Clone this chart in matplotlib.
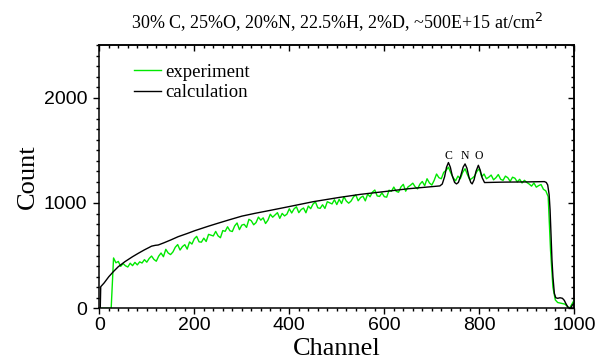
import numpy as np
import matplotlib
matplotlib.use("Agg")
import matplotlib.pyplot as plt
from matplotlib.ticker import MultipleLocator

# ---------------- data ----------------
title_text = "30% C, 25%O, 20%N, 22.5%H, 2%D, ~500E+15 at/cm$^2$"
x_label = "Channel"
y_label = "Count"
series_names = ["experiment", "calculation"]

# experiment: counts read every 5 channels (0..1000)
exp_channels = np.arange(0, 1001, 5)
exp_counts = [
    0, 0, 0, 0, 0, 0,
    478, 432, 445, 398, 425, 404, 392, 428, 405, 436, 412, 441, 430, 462, 438,
    473, 496, 464, 447, 495, 525, 490, 560, 525, 510, 535, 580, 605, 553, 586, 604, 562, 630, 610, 660,
    683, 631, 628, 666, 634, 702, 694, 687, 730, 688, 670, 738, 731, 774, 736, 729, 782, 810, 747, 790,
    797, 768, 845, 831, 793, 814, 866, 837, 859, 805, 837, 893, 865, 886, 908, 854, 901, 877, 894, 945,
    905, 944, 964, 908, 938, 952, 907, 971, 946, 990, 1010, 954, 949, 983, 948, 1012, 1002, 991, 1031, 985,
    1035, 995, 1059, 1019, 998, 1018, 1057, 1077, 1021, 1051, 1065, 1020, 1084, 1059, 1103, 1123, 1067, 1062, 1096, 1060,
    1055, 1121, 1111, 1151, 1111, 1102, 1152, 1177, 1112, 1153, 1168, 1188, 1153, 1134, 1179, 1204, 1164, 1230, 1190, 1170,
    1215, 1275, 1240, 1230, 1290, 1310, 1340, 1285, 1240, 1210, 1255, 1230, 1290, 1325, 1270, 1220, 1235, 1255, 1300, 1325,
    1250, 1275, 1230, 1245, 1265, 1220, 1240, 1270, 1225, 1215, 1255, 1240, 1205, 1245, 1235, 1200, 1225, 1190, 1215, 1195,
    1180, 1160, 1190, 1150, 1165, 1175, 1130, 1115, 1060, 550, 200, 80, 55, 50, 45, 40, 20, 0, 40, 80,
]

# calculation: smooth simulated spectrum
calc_channels = [2, 3, 10, 20, 30, 40, 54, 70, 82, 95, 105, 110, 118, 124, 135, 150, 166, 185, 201, 230,
                 250, 272, 300, 328, 360, 400, 450, 507, 550, 600, 650, 700, 717, 722, 727, 731, 735, 739,
                 743, 748, 752, 756, 761, 766, 770, 774, 778, 782, 785, 789, 793, 798, 802, 806, 811, 850,
                 900, 937, 941, 944, 947, 949, 951, 953, 955, 958, 961, 965, 970, 975, 979, 982, 986, 989,
                 993, 996, 1000]
calc_counts = [0, 205, 240, 300, 350, 395, 443, 490, 522, 555, 578, 590, 598, 601, 620, 648, 680, 710, 737, 780,
               808, 838, 875, 902, 930, 966, 1012, 1054, 1082, 1108, 1135, 1155, 1162, 1180, 1250, 1340, 1384, 1340,
               1260, 1195, 1181, 1195, 1260, 1340, 1371, 1330, 1250, 1195, 1181, 1220, 1300, 1358, 1310, 1240, 1194, 1198,
               1200, 1203, 1195, 1171, 1080, 934, 700, 459, 300, 142, 100, 95, 100, 95, 75, 47, 15, 0,
               5, 32, 50]

peak_labels = ["C", "N", "O"]
peak_channels = [734, 769, 799]
peak_label_counts = [1390, 1390, 1390]

# ---------------- plot ----------------
plt.rcParams["font.family"] = ["Liberation Sans", "DejaVu Sans"]
serif = ["Liberation Serif", "DejaVu Serif"]

fig = plt.figure(figsize=(6.03, 3.6), dpi=100)
ax = fig.add_axes([99.3 / 603, 1 - 308.3 / 360, 475 / 603, 263.3 / 360])

ax.plot(exp_channels, exp_counts, color="#00e800", lw=1.0, label=series_names[0])
ax.plot(calc_channels, calc_counts, color="black", lw=1.0, label=series_names[1])

for lab, cx, cy in zip(peak_labels, peak_channels, peak_label_counts):
    ax.text(cx, cy, lab, family=serif, fontsize=8.5, ha="center", va="bottom")

ax.set_xlim(0, 1000)
ax.set_ylim(0, 2500)
ax.xaxis.set_major_locator(MultipleLocator(200))
ax.xaxis.set_minor_locator(MultipleLocator(20))
ax.yaxis.set_major_locator(MultipleLocator(1000))
ax.yaxis.set_minor_locator(MultipleLocator(100))
ax.tick_params(axis="both", which="major", direction="out", length=4.5, width=1, labelsize=14)
ax.tick_params(axis="both", which="minor", direction="out", length=2.5, width=1)
ax.tick_params(axis="x", pad=2)
ax.tick_params(axis="y", pad=4)

secx = ax.secondary_xaxis("top")
secx.xaxis.set_major_locator(MultipleLocator(200))
secx.xaxis.set_minor_locator(MultipleLocator(20))
secx.tick_params(which="major", direction="in", length=4.5, width=1, labeltop=False)
secx.tick_params(which="minor", direction="in", length=2.5, width=1)
secy = ax.secondary_yaxis("right")
secy.yaxis.set_major_locator(MultipleLocator(1000))
secy.yaxis.set_minor_locator(MultipleLocator(100))
secy.tick_params(which="major", direction="in", length=4.5, width=1, labelright=False)
secy.tick_params(which="minor", direction="in", length=2.5, width=1)

for sp in list(ax.spines.values()) + [secx.spines["top"], secy.spines["right"]]:
    sp.set_linewidth(1.1)

ax.set_xlabel(x_label, family=serif, fontsize=19, labelpad=3)
ax.set_ylabel(y_label, family=serif, fontsize=19, labelpad=4)
fig.text(337 / 603, 1 - 28 / 360, title_text, family=serif, fontsize=13, ha="center", va="baseline")

leg = ax.legend(loc="upper left", bbox_to_anchor=(0.072, 0.93), frameon=False,
                prop={"family": serif, "size": 13.5}, handlelength=1.45, handletextpad=0.25,
                labelspacing=0.2, borderpad=0, borderaxespad=0)

fig.savefig("out.png", dpi=100)
